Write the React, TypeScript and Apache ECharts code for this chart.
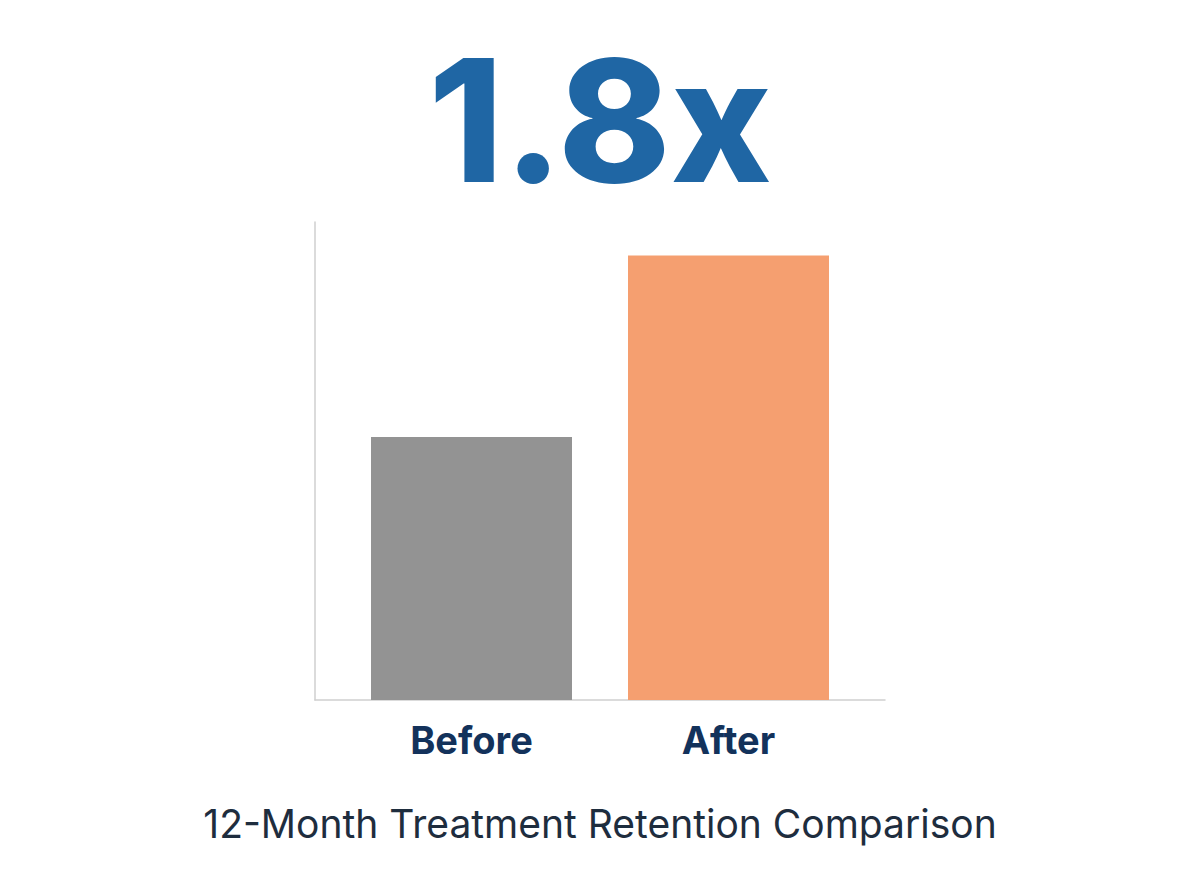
import React, { useEffect, useRef } from "react";
import * as echarts from "echarts";

const categories = ["Before", "After"];
const retention = [55, 93];
const barColors = ["#939393", "#f59f70"];
const headline = "1.8x";
const caption = "12-Month Treatment Retention Comparison";
const yMax = 100;

const App: React.FC = () => {
    const chartRef = useRef<HTMLDivElement>(null);

    useEffect(() => {
        document.body.style.margin = "0";
        const chart = echarts.init(chartRef.current, null, { renderer: "svg" });
        const hiddenAxis = {
            axisLine: { show: false },
            axisTick: { show: false },
            axisLabel: { show: false },
            splitLine: { show: false },
        };
        chart.setOption({
            animation: false,
            backgroundColor: "#ffffff",
            textStyle: { fontFamily: "Inter" },
            title: [
                {
                    text: headline,
                    left: "center",
                    top: 30,
                    textStyle: { fontSize: 170, fontWeight: 800, color: "#1f66a4", fontFamily: "Inter" },
                },
                {
                    text: caption,
                    left: "center",
                    top: 799,
                    textStyle: { fontSize: 39, fontWeight: 400, color: "#1e2d3e", fontFamily: "Inter" },
                },
            ],
            grid: [
                { left: 315, top: 222, width: 570, height: 478 },
                { left: 343, top: 222, width: 514, height: 478 },
            ],
            xAxis: [
                {
                    type: "value",
                    gridIndex: 0,
                    min: 0,
                    max: 1,
                    ...hiddenAxis,
                    axisLine: { show: true, lineStyle: { color: "#cfcfcf", width: 1.5 } },
                },
                {
                    type: "category",
                    gridIndex: 1,
                    data: categories,
                    ...hiddenAxis,
                    axisLabel: {
                        show: true,
                        margin: 21,
                        fontSize: 38,
                        fontWeight: 700,
                        color: "#13325b",
                        fontFamily: "Inter",
                    },
                },
            ],
            yAxis: [
                {
                    type: "value",
                    gridIndex: 0,
                    min: 0,
                    max: yMax,
                    ...hiddenAxis,
                    axisLine: { show: true, lineStyle: { color: "#cfcfcf", width: 1.5 } },
                },
                { type: "value", gridIndex: 1, min: 0, max: yMax, ...hiddenAxis },
            ],
            series: [
                {
                    type: "bar",
                    xAxisIndex: 1,
                    yAxisIndex: 1,
                    barWidth: 201,
                    data: retention.map((v, i) => ({ value: v, itemStyle: { color: barColors[i] } })),
                },
            ],
        });
        return () => {
            chart.dispose();
        };
    }, []);

    return <div ref={chartRef} style={{ width: 1200, height: 896 }}></div>;
};

export default App;
